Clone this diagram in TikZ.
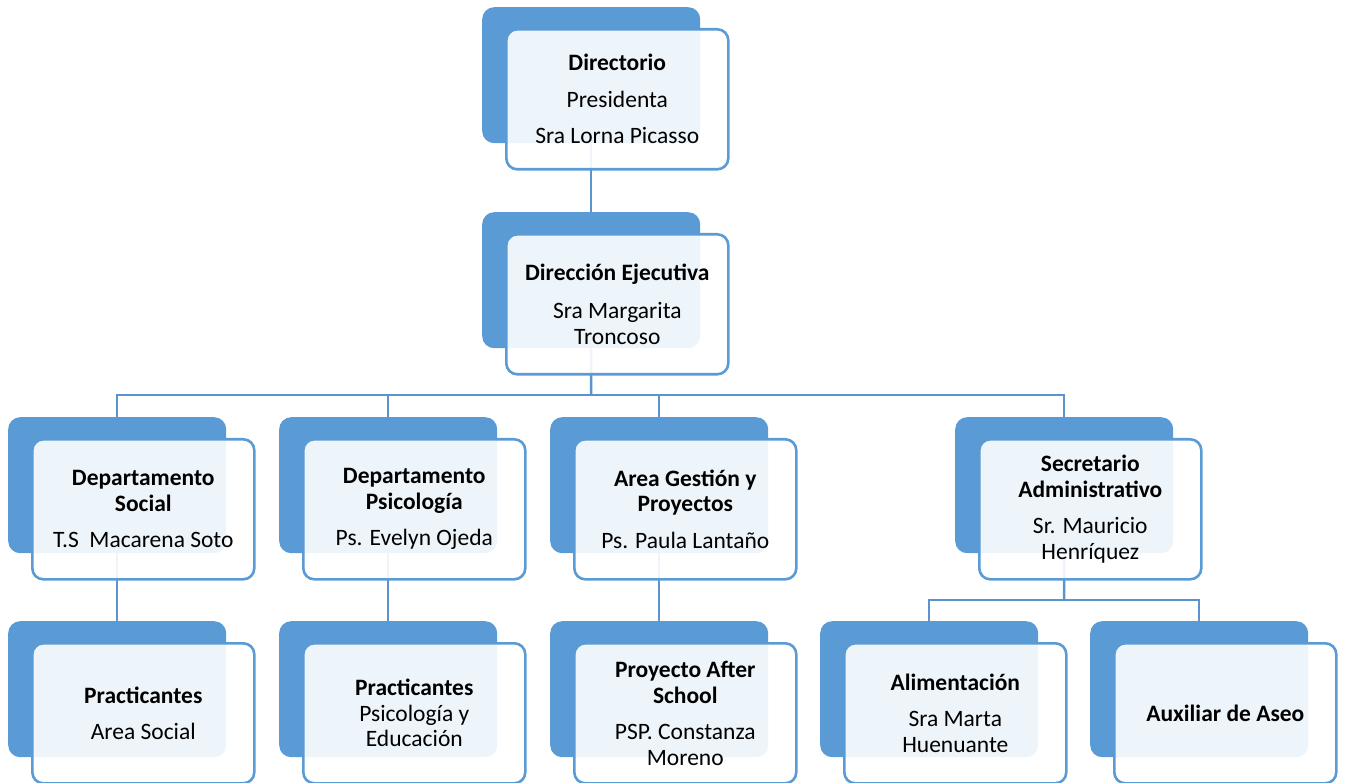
\documentclass[tikz,border=0pt]{standalone}
\usepackage{fontspec}
\setmainfont{Carlito}
\definecolor{accent}{HTML}{5B9BD5}
\definecolor{linecol}{HTML}{5A93CD}
\pgfdeclarelayer{bg}
\pgfsetlayers{bg,main}
\tikzset{
  backbox/.style={rectangle, rounded corners=12pt, fill=accent, draw=none,
    minimum width=218pt, minimum height=136pt, inner sep=0pt, anchor=north west},
  frontbox/.style={rectangle, rounded corners=11pt, fill=white, fill opacity=0.9,
    text opacity=1, draw=accent, line width=2.6pt,
    minimum width=222pt, minimum height=140pt, inner sep=0pt, anchor=north west,
    align=center, text=black, font=\fontsize{23.5}{25.5}\selectfont},
  conn/.style={draw=linecol, line width=2.5pt}
}
\begin{document}
\begin{tikzpicture}[x=1pt,y=-1pt]
\useasboundingbox (0,0) rectangle (1345,783);
% back boxes
\node[backbox] (b1) at (482,7) {};
\node[backbox] (b2) at (482,212) {};
\node[backbox] (b3) at (8,417) {};
\node[backbox] (b4) at (279,417) {};
\node[backbox] (b5) at (550,417) {};
\node[backbox] (b6) at (955,417) {};
\node[backbox] (b7) at (8,621) {};
\node[backbox] (b8) at (279,621) {};
\node[backbox] (b9) at (550,621) {};
\node[backbox] (b10) at (820,621) {};
\node[backbox] (b11) at (1090,621) {};
% front boxes
\node[frontbox] (f1) at (505,28) {\textbf{Directorio}\\[11pt] Presidenta\\[11pt] Sra Lorna Picasso};
\node[frontbox] (f2) at (505,233) {\textbf{Dirección Ejecutiva}\\[13pt] Sra Margarita\\ Troncoso};
\node[frontbox] (f3) at (31,438) {\textbf{Departamento}\\ \textbf{Social}\\[11pt] T.S\ \ Macarena Soto};
\node[frontbox] (f4) at (302,438) {\textbf{Departamento}\\ \textbf{Psicología}\\[11pt] Ps. Evelyn Ojeda};
\node[frontbox] (f5) at (573,438) {\textbf{Area Gestión y}\\ \textbf{Proyectos}\\[11pt] Ps. Paula Lantaño};
\node[frontbox] (f6) at (978,438) {\textbf{Secretario}\\ \textbf{Administrativo}\\[11pt] Sr. Mauricio\\ Henríquez};
\node[frontbox] (f7) at (31,642) {\textbf{Practicantes}\\[11pt] Area Social};
\node[frontbox] (f8) at (302,642) {\textbf{Practicantes}\\ Psicología y\\ Educación};
\node[frontbox] (f9) at (573,642) {\textbf{Proyecto After}\\ \textbf{School}\\[11pt] PSP. Constanza\\ Moreno};
\node[frontbox] (f10) at (843,642) {\textbf{Alimentación}\\[11pt] Sra Marta\\ Huenuante};
\node[frontbox] (f11) at (1113,642) {\textbf{Auxiliar de Aseo}};
% connectors
\begin{pgfonlayer}{bg}
\coordinate (bus) at (591,395);
\coordinate (bus2) at (1064,600);
\draw[conn] (b1.south) -- (b2.north);
\draw[conn] (b2.south) -- (bus);
\draw[conn] (bus) -| (b3.north);
\draw[conn] (bus) -| (b4.north);
\draw[conn] (bus) -| (b5.north);
\draw[conn] (bus) -| (b6.north);
\draw[conn] (b3.south) -- (b7.north);
\draw[conn] (b4.south) -- (b8.north);
\draw[conn] (b5.south) -- (b9.north);
\draw[conn] (b6.south) -- (bus2);
\draw[conn] (bus2) -| (b10.north);
\draw[conn] (bus2) -| (b11.north);
\end{pgfonlayer}
\end{tikzpicture}
\end{document}
